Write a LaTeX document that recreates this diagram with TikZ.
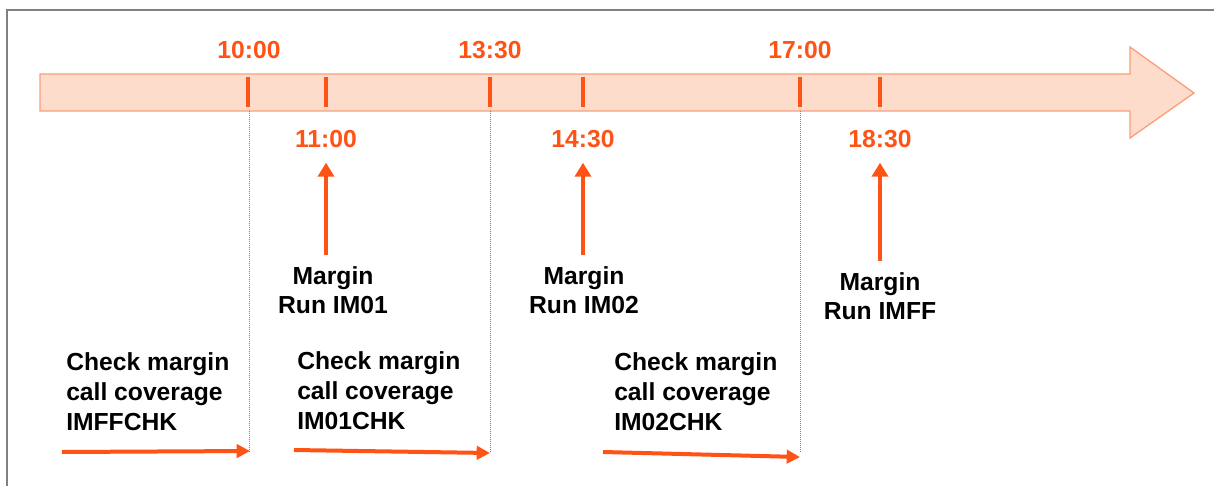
\documentclass[tikz,border=0pt]{standalone}
\usepackage{fontspec}
\setmainfont{Liberation Sans}
\usetikzlibrary{arrows.meta,positioning}
\definecolor{tlorange}{HTML}{FF5316}
\definecolor{bandfill}{HTML}{FDDCCB}
\definecolor{banddraw}{HTML}{F9A07A}
\tikzset{
	px/.style={x=0.75pt,y=-0.75pt},
	frame/.style={draw=gray,line width=1.5pt},
	band/.style={draw=banddraw,fill=bandfill,line width=1pt},
	tickmark/.style={draw=tlorange,line width=3pt},
	time/.style={font=\bfseries\fontsize{18.5}{22}\selectfont,text=tlorange,inner sep=0pt},
	run/.style={font=\bfseries\fontsize{18.5}{22}\selectfont,align=center,inner sep=0pt},
	task/.style={font=\bfseries\fontsize{18.5}{22.5}\selectfont,align=left,inner sep=0pt,anchor=west},
	up/.style={draw=tlorange,line width=3pt,-{Triangle[length=10.5pt,width=12pt]},shorten <=8pt,shorten >=11pt},
	span/.style={draw=tlorange,line width=3pt,-{Triangle[length=10pt,width=10pt]}},
	guide/.style={draw=gray,densely dotted,line width=0.5pt}
}

\begin{document}
\begin{tikzpicture}[px]
	\useasboundingbox (0,0) rectangle (1214,486);
	\draw[frame] (7,486) -- (7,10) -- (1214,10);
	% time line
	\draw[band] (40,74) -- (1130,74) -- (1130,47) -- (1194,93) -- (1130,138) -- (1130,111) -- (40,111) -- cycle;
	\foreach \x in {248,326,490,583,800,880}
		\draw[tickmark] (\x,77) -- (\x,107);
	% guides
	\foreach \x in {249,490,800}
		\draw[guide] (\x,111) -- (\x,453);
	% times
	\node[time] (t1000) at (249,50) {10:00};
	\node[time] (t1330) at (490,50) {13:30};
	\node[time] (t1700) at (800,50) {17:00};
	\node[time] (t1100) at (326,139) {11:00};
	\node[time] (t1430) at (583,139) {14:30};
	\node[time] (t1830) at (880,139) {18:30};
	% margin runs
	\node[run] (im01) at (333,290) {Margin\\Run IM01};
	\node[run] (im02) at (584,290) {Margin\\Run IM02};
	\node[run] (imff) at (880,296) {Margin\\Run IMFF};
	\draw[up] (t1100 |- im01.north) -- (t1100);
	\draw[up] (t1430 |- im02.north) -- (t1430);
	\draw[up] (t1830 |- imff.north) -- (t1830);
	% coverage checks
	\node[task] (chkff) at (66,392) {Check margin\\call coverage\\IMFFCHK};
	\node[task] (chk01) at (297,391) {Check margin\\call coverage\\IM01CHK};
	\node[task] (chk02) at (614,392) {Check margin\\call coverage\\IM02CHK};
	\coordinate (sff) at (62,452);
	\coordinate (eff) at (250,451);
	\coordinate (s01) at (294,450);
	\coordinate (e01) at (490,453);
	\coordinate (s02) at (603,452);
	\coordinate (e02) at (800,457);
	\draw[span] (sff) -- (eff);
	\draw[span] (s01) -- (e01);
	\draw[span] (s02) -- (e02);
\end{tikzpicture}
\end{document}
